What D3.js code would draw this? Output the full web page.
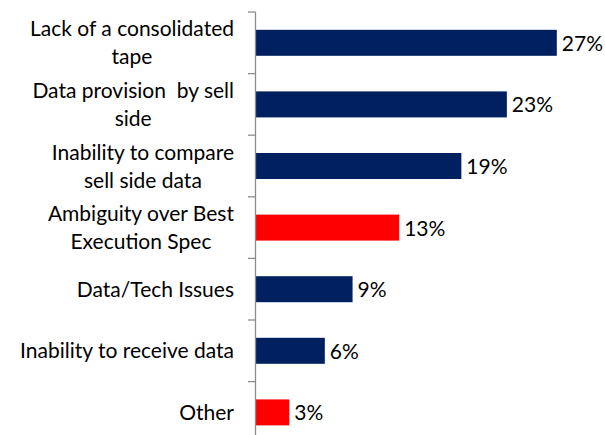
<!DOCTYPE html>
<html>
<head>
<meta charset="utf-8">
<script src="https://cdn.jsdelivr.net/npm/d3@7"></script>
<style>
  html, body { margin: 0; padding: 0; background: #fff; }
  svg { display: block; }
</style>
</head>
<body>
<svg id="chart" width="605" height="435"></svg>
<script>
// ---- data ----
const categories = [
  ["Lack of a consolidated", "tape"],
  ["Data provision  by sell", "side"],
  ["Inability to compare", "sell side data"],
  ["Ambiguity over Best", "Execution Spec"],
  ["Data/Tech Issues"],
  ["Inability to receive data"],
  ["Other"]
];
const values = [27.1, 22.6, 18.5, 12.9, 8.7, 6.2, 3.0];
const valueLabels = ["27%", "23%", "19%", "13%", "9%", "6%", "3%"];
const highlighted = [false, false, false, true, false, false, true];

// ---- layout ----
(function () {
const W = 605, H = 435;
const axisX = 256;
const plotTop = 12, step = 61.6;
const font = "Lato, 'Open Sans', sans-serif";
const fontSize = 21;
const navy = "#002060", red = "#FF0000";

const svg = d3.select("#chart");
const ids = categories.map((c, i) => i);

const pad = 1 - 26 / step;
const y = d3.scaleBand()
  .domain(ids)
  .range([plotTop, plotTop + step * ids.length])
  .paddingInner(pad)
  .paddingOuter(pad / 2);

const x = d3.scaleLinear().domain([0, 30]).range([axisX, axisX + 333]);

// bars
svg.append("g").selectAll("rect")
  .data(ids)
  .join("rect")
  .attr("x", x(0))
  .attr("y", i => y(i))
  .attr("width", i => x(values[i]) - x(0))
  .attr("height", y.bandwidth())
  .attr("fill", i => highlighted[i] ? red : navy);

// axis line and ticks
const axisG = svg.append("g").attr("stroke", "#8c8c8c").attr("stroke-width", 1.3);
axisG.append("line")
  .attr("x1", axisX - 0.5).attr("x2", axisX - 0.5)
  .attr("y1", plotTop).attr("y2", H + 5);
const boundaries = ids.map(i => y(i) - (y.step() - y.bandwidth()) / 2);
boundaries.push(boundaries[boundaries.length - 1] + y.step());
axisG.selectAll("line.tick")
  .data(boundaries)
  .join("line")
  .attr("class", "tick")
  .attr("x1", axisX - 8).attr("x2", axisX - 0.5)
  .attr("y1", d => d).attr("y2", d => d);

// category labels (wrapped lines centered in a right-aligned block)
const labelRight = 234;
const lineH = 28;
ids.forEach(i => {
  const lines = categories[i];
  const g = svg.append("g");
  const texts = lines.map(l => g.append("text")
    .attr("font-family", font)
    .attr("font-size", fontSize)
    .attr("fill", "#000")
    .style("white-space", "pre")
    .text(l));
  const widths = texts.map(t => t.node().getComputedTextLength());
  const maxW = d3.max(widths);
  const cx = labelRight - maxW / 2;
  const cy = y(i) + y.bandwidth() / 2;
  texts.forEach((t, k) => {
    t.attr("text-anchor", "middle")
     .attr("x", cx)
     .attr("y", cy + 7.5 + (k - (lines.length - 1) / 2) * lineH);
  });
});

// value labels
svg.append("g").selectAll("text")
  .data(ids)
  .join("text")
  .attr("x", i => x(values[i]) + 5)
  .attr("y", i => y(i) + y.bandwidth() / 2 + 8)
  .attr("font-family", font)
  .attr("font-size", fontSize)
  .attr("fill", "#000")
  .text(i => valueLabels[i]);
})();
</script>
</body>
</html>
